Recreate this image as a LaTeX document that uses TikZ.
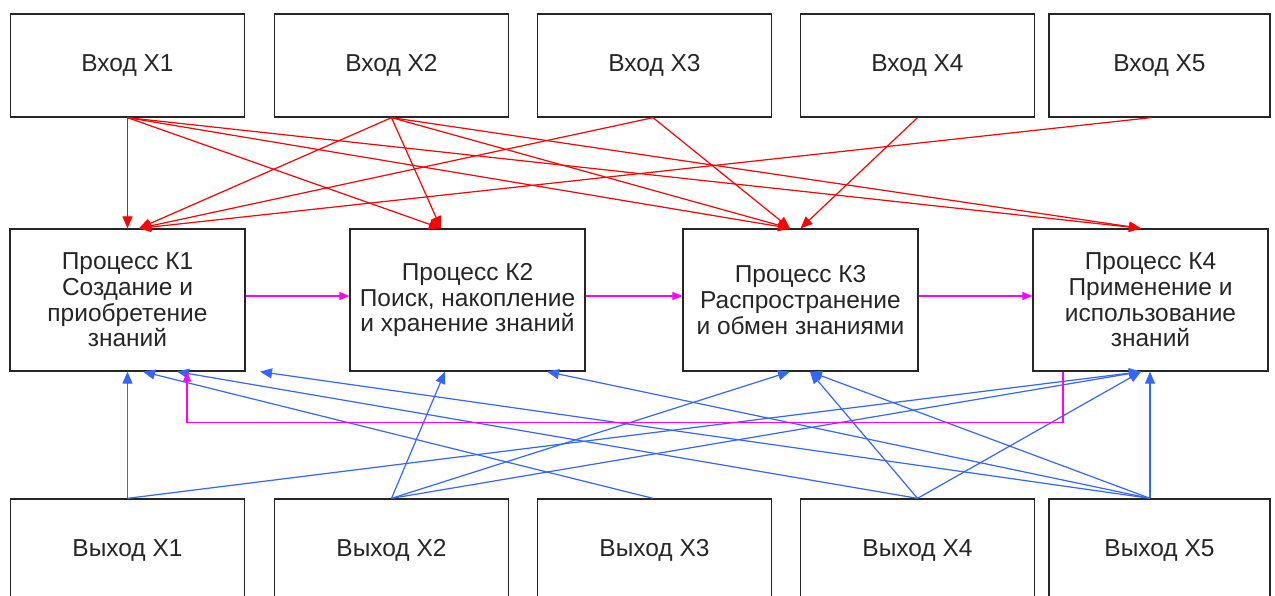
\documentclass[tikz,border=0pt]{standalone}
\usepackage{fontspec}
\setmainfont{Liberation Sans}
\usetikzlibrary{arrows.meta}
\definecolor{rd}{RGB}{255,0,0}
\definecolor{bl}{RGB}{51,102,255}
\definecolor{mg}{RGB}{255,0,255}
\begin{document}
\begin{tikzpicture}[x=1pt,y=-1pt,
  box/.style={draw=black!85,line width=1.3pt,fill=white,inner sep=0pt,align=center,
    minimum width=234pt,minimum height=103pt,text=black!85,
    font=\fontsize{24.5}{25.7}\selectfont},
  proc/.style={box,minimum width=235pt,minimum height=142pt},
  redarr/.style={draw=rd,line width=1.2pt,-{Triangle[length=12pt,width=10pt]}},
  bluearr/.style={draw=bl,line width=1.2pt,-{Triangle[length=12pt,width=10pt]}},
  magarr/.style={draw=mg,line width=1.2pt,-{Triangle[length=10pt,width=8pt]}}]
\useasboundingbox (0,0) rectangle (1275,596);
\clip (0,0) rectangle (1275,596);
\fill[white] (0,0) rectangle (1275,596);
% inputs
\node[box] (tx1) at (127.5,65.5) {Вход X1};
\node[box] (tx2) at (391.5,65.5) {Вход X2};
\node[box] (tx3) at (654.5,65.5) {Вход X3};
\node[box] (tx4) at (917.5,65.5) {Вход X4};
\node[box,minimum width=221pt] (tx5) at (1159.5,65.5) {Вход X5};
% processes
\node[proc] (k1) at (127.5,300) {Процесс К1\\Создание и\\приобретение\\знаний};
\node[proc] (k2) at (467.5,300) {Процесс К2\\Поиск, накопление\\и хранение знаний};
\node[proc] (k3) at (800.5,300) {Процесс К3\\Распространение\\и обмен знаниями};
\node[proc] (k4) at (1150.5,300) {Процесс К4\\Применение и\\использование\\знаний};
% outputs
\node[box] (bx1) at (127.5,550.5) {Выход X1};
\node[box] (bx2) at (391.5,550.5) {Выход X2};
\node[box] (bx3) at (654.5,550.5) {Выход X3};
\node[box] (bx4) at (917.5,550.5) {Выход X4};
\node[box,minimum width=221pt] (bx5) at (1159.5,550.5) {Выход X5};
% red connectors
\draw[redarr] (tx1.south) -- (k1.north);
\draw[redarr] (tx1.south) -- ([xshift=-26.5]k2.north);
\draw[redarr] (tx1.south) -- ([xshift=-10.5]k3.north);
\draw[redarr] (tx1.south) -- ([xshift=-9.5]k4.north);
\draw[redarr] (tx2.south) -- ([xshift=11.5]k1.north);
\draw[redarr] (tx2.south) -- ([xshift=-26.5]k2.north);
\draw[redarr] (tx2.south) -- ([xshift=-10.5]k3.north);
\draw[redarr] (tx2.south) -- ([xshift=-9.5]k4.north);
\draw[redarr] ([xshift=-1.5]tx3.south) -- ([xshift=11.5]k1.north);
\draw[redarr] ([xshift=-1.5]tx3.south) -- ([xshift=-10.5]k3.north);
\draw[redarr] (tx4.south) -- (k3.north);
\draw[redarr] ([xshift=-8.5]tx5.south) -- ([xshift=11.5]k1.north);
% blue connectors
\draw[bluearr] (bx1.north) -- (k1.south);
\draw[bluearr] (bx1.north) -- ([xshift=-9.5]k4.south);
\draw[bluearr] (bx2.north) -- ([xshift=-22.5]k2.south);
\draw[bluearr] (bx2.north) -- ([xshift=-10.5]k3.south);
\draw[bluearr] (bx2.north) -- ([xshift=-9.5]k4.south);
\draw[bluearr] ([xshift=-1.5]bx3.north) -- ([xshift=15.5]k1.south);
\draw[bluearr] (bx4.north) -- ([xshift=49.5]k1.south);
\draw[bluearr] (bx4.north) -- ([xshift=9.5]k3.south);
\draw[bluearr] (bx4.north) -- ([xshift=-9.5]k4.south);
\draw[bluearr] ([xshift=-9.5]bx5.north) -- ([xshift=132.5]k1.south);
\draw[bluearr] ([xshift=-9.5]bx5.north) -- ([xshift=79.5]k2.south);
\draw[bluearr] ([xshift=-9.5]bx5.north) -- ([xshift=9.5]k3.south);
\draw[bluearr] ([xshift=-9.5]bx5.north) -- ([xshift=-0.5]k4.south);
% magenta connectors
\draw[magarr] ([yshift=4]k1.east) -- ([yshift=4]k2.west);
\draw[magarr] ([yshift=4]k2.east) -- ([yshift=4]k3.west);
\draw[magarr] ([yshift=4]k3.east) -- ([yshift=4]k4.west);
\draw[magarr] ([xshift=-87.5]k4.south) -- ++(0,51) -| ([xshift=59.5]k1.south);
\end{tikzpicture}
\end{document}
